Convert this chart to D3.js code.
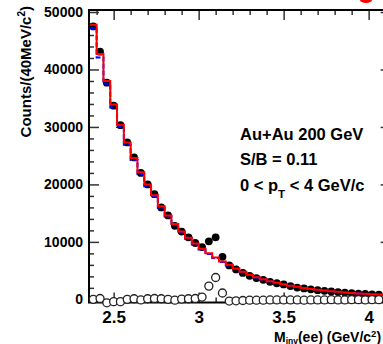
<!DOCTYPE html>
<html><head><meta charset="utf-8">
<script src="https://cdn.jsdelivr.net/npm/d3@7"></script>
<style>
html,body{margin:0;padding:0;background:#fff;}
svg{display:block;font-family:"Liberation Sans",Arial,Helvetica,sans-serif;font-weight:bold;}
</style></head>
<body><svg id="c" width="383" height="344"></svg>
<script>
// bin centers (GeV/c^2), 40 MeV bins
const binCenters = [2.38,2.42,2.46,2.50,2.54,2.58,2.62,2.66,2.70,2.74,2.78,2.82,2.86,2.90,2.94,2.98,3.02,3.06,3.10,3.14,3.18,3.22,3.26,3.30,3.34,3.38,3.42,3.46,3.50,3.54,3.58,3.62,3.66,3.70,3.74,3.78,3.82,3.86,3.90,3.94,3.98,4.02,4.06,4.10];
const binWidth = 0.04;
// unlike-sign data (filled circles)
const dataCounts = [47500,43100,37700,33700,30300,27300,24700,22000,20000,18300,16000,14600,12800,11800,10800,9800,9100,10100,10800,7400,5900,5200,4600,4100,3700,3400,3050,2800,2600,2300,2050,1900,1750,1600,1480,1370,1260,1170,1080,1000,930,860,800];
// mixed-event background (red histogram)
const bgRed = [47800,42700,38000,33900,30400,27300,24600,22100,20000,18100,16200,14600,13100,11800,10700,9700,8800,8000,7300,6600,6000,5350,4800,4300,3850,3500,3150,2880,2620,2380,2170,1980,1810,1660,1530,1410,1300,1200,1110,1030,960,890,830,770];
// like-sign background (blue dashed histogram)
const bgBlue = [47200,42100,37500,33400,30000,26900,24250,21800,19700,17850,15950,14400,12900,11620,10540,9550,8670,7880,7190,6500,5910,5270,4730,4240,3790,3450,3100,2840,2580,2340,2140,1950,1780,1635,1505,1390,1280,1180,1090,1015,945,875,815,760];
// signal (open circles)
const signalCounts = [0,150,-600,-400,-400,0,100,-100,100,150,100,0,-150,50,100,150,400,2300,3800,1100,-300,-250,-200,-150,-150,-150,-100,-100,-100,-100,-100,-150,-100,-100,-100,-50,-100,-100,-50,-50,-100,-50,-50];
const xMajorTicks = [2.5,3,3.5,4];
const xTickLabels = ["2.5","3","3.5","4"];
const yMajorTicks = [0,10000,20000,30000,40000,50000];
const yTickLabels = ["0","10000","20000","30000","40000","50000"];
const annotations = ["Au+Au 200 GeV","S/B = 0.11"];

const svg = d3.select("#c");
const L = 89, T = 10, B = 302.5;
const x = d3.scaleLinear().domain([2.355, 4.1]).range([L, L + 1.745*170]);
const y = d3.scaleLinear().domain([-550, 50350]).range([B, T]);
const R = x.range()[1];

svg.append("defs").append("clipPath").attr("id","clip")
  .append("rect").attr("x",L).attr("y",T).attr("width",R-L).attr("height",B-T);

// minor tick values
const xMinor = d3.range(24,41).map(d=>d/10).filter(v=>!xMajorTicks.some(m=>Math.abs(m-v)<1e-6));
const yMinor = d3.range(0,51,2).map(d=>d*1000).filter(v=>v%10000!==0);

function styleAxis(g){
  g.select(".domain").remove();
  g.selectAll(".tick line").attr("stroke","#333").attr("stroke-width",1.5);
  g.selectAll("text").attr("fill","#000").attr("font-family","Liberation Sans, Arial, sans-serif").attr("font-weight","bold");
}
// left axis
svg.append("g").attr("transform",`translate(${L},0)`)
  .call(d3.axisLeft(y).tickValues(yMajorTicks).tickSize(-10).tickPadding(6).tickFormat((d,i)=>yTickLabels[i]))
  .call(styleAxis).selectAll("text").attr("font-size","14px");
svg.append("g").attr("transform",`translate(${L},0)`)
  .call(d3.axisLeft(y).tickValues(yMinor).tickSize(-5).tickFormat(""))
  .call(styleAxis);
// right axis ticks
svg.append("g").attr("transform",`translate(${R},0)`)
  .call(d3.axisRight(y).tickValues(yMajorTicks).tickSize(-5).tickFormat(""))
  .call(styleAxis);
// bottom axis
svg.append("g").attr("transform",`translate(0,${B})`)
  .call(d3.axisBottom(x).tickValues(xMajorTicks).tickSize(-10).tickPadding(8).tickFormat((d,i)=>xTickLabels[i]))
  .call(styleAxis).selectAll("text").attr("font-size","17px");
svg.append("g").attr("transform",`translate(0,${B})`)
  .call(d3.axisBottom(x).tickValues(xMinor).tickSize(-5).tickFormat(""))
  .call(styleAxis);
// top axis
svg.append("g").attr("transform",`translate(0,${T})`)
  .call(d3.axisTop(x).tickValues(xMajorTicks).tickSize(-10).tickFormat(""))
  .call(styleAxis);
svg.append("g").attr("transform",`translate(0,${T})`)
  .call(d3.axisTop(x).tickValues(xMinor).tickSize(-5).tickFormat(""))
  .call(styleAxis);

const plot = svg.append("g").attr("clip-path","url(#clip)");

// filled data points
plot.append("g").selectAll("circle").data(dataCounts).join("circle")
  .attr("cx",(d,i)=>x(binCenters[i])).attr("cy",d=>y(d)).attr("r",3.9).attr("fill","#000");

function stepPts(vals){
  const pts = vals.map((v,i)=>[binCenters[i]-binWidth/2, v]);
  pts.push([binCenters[vals.length-1]+binWidth/2, vals[vals.length-1]]);
  return pts;
}
const stepLine = d3.line().x(d=>x(d[0])).y(d=>y(d[1])).curve(d3.curveStepAfter);
plot.append("path").attr("d",stepLine(stepPts(bgBlue))).attr("fill","none")
  .attr("stroke","#0000ff").attr("stroke-width",2).attr("stroke-dasharray","5,2");
plot.append("path").attr("d",stepLine(stepPts(bgRed))).attr("fill","none")
  .attr("stroke","#ff0000").attr("stroke-width",2);

// frame
svg.append("rect").attr("x",L).attr("y",T).attr("width",R-L).attr("height",B-T)
  .attr("fill","none").attr("stroke","#000").attr("stroke-width",2);

// open circles (signal)
svg.append("g").selectAll("circle").data(signalCounts).join("circle")
  .attr("cx",(d,i)=>x(binCenters[i])).attr("cy",d=>y(d)).attr("r",4)
  .attr("fill","#fff").attr("stroke","#222").attr("stroke-width",1.3);

// annotations
const ann = svg.append("g").attr("font-size","16.5px").attr("fill","#000");
ann.append("text").attr("x",240).attr("y",139.5).text(annotations[0]);
ann.append("text").attr("x",240).attr("y",165).text(annotations[1]);
const t3 = ann.append("text").attr("x",240).attr("y",190.5);
t3.append("tspan").text("0 < p");
t3.append("tspan").attr("font-size","11.5px").attr("dy",7).text("T");
t3.append("tspan").attr("dy",-7).text(" < 4 GeV/c");

// y title
const yt = svg.append("text").attr("transform","translate(31,6) rotate(-90)")
  .attr("text-anchor","end").attr("font-size","15px");
yt.append("tspan").text("Counts/(40MeV/c");
yt.append("tspan").attr("font-size","10px").attr("dy",-6).text("2");
yt.append("tspan").attr("dy",6).text(")");

// x title
const xt = svg.append("text").attr("x",274).attr("y",341.5).attr("font-size","14px");
xt.append("tspan").text("M");
xt.append("tspan").attr("font-size","8.5px").attr("dy",2).text("inv");
xt.append("tspan").attr("dy",-2).text("(ee) (GeV/c");
xt.append("tspan").attr("font-size","9.5px").attr("dy",-5).text("2");
xt.append("tspan").attr("dy",5).text(")");

// fragment of red marker at top-right edge
svg.append("ellipse").attr("cx",366).attr("cy",0).attr("rx",6).attr("ry",3).attr("fill","#f00");
</script></body></html>
